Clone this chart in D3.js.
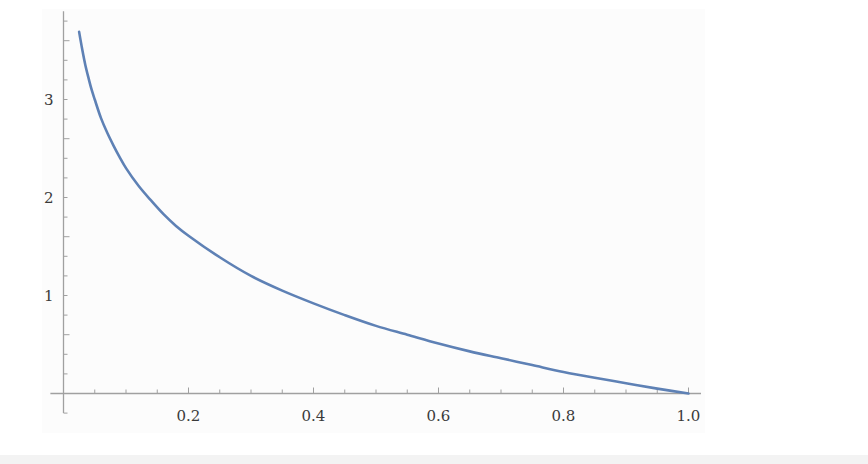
<!DOCTYPE html>
<html>
<head>
<meta charset="utf-8">
<script src="https://cdn.jsdelivr.net/npm/d3@7"></script>
<style>
  body { margin: 0; background: #fff; }
  #chart { width: 868px; height: 464px; }
</style>
</head>
<body>
<div id="chart"></div>
<script>
(function(){
    var width = 868,
        height = 464;

    // values
    var xValues = [0.025, 0.03, 0.035, 0.04, 0.045, 0.05, 0.06, 0.07, 0.08, 0.09, 0.1, 0.12, 0.14, 0.16, 0.18, 0.2,
                   0.25, 0.3, 0.35, 0.4, 0.45, 0.5, 0.55, 0.6, 0.65, 0.7, 0.75, 0.8, 0.85, 0.9, 0.95, 1.0];
    var yValues = [3.69, 3.51, 3.35, 3.22, 3.10, 3.0, 2.81, 2.66, 2.53, 2.41, 2.30, 2.12, 1.97, 1.83, 1.71, 1.61,
                   1.39, 1.20, 1.05, 0.92, 0.80, 0.69, 0.60, 0.51, 0.43, 0.36, 0.29, 0.22, 0.16, 0.105, 0.05, 0.0];
    var xTickLabels = ["0.2", "0.4", "0.6", "0.8", "1.0"];
    var yTickLabels = ["1", "2", "3"];

    var points = xValues.map(function(x, i){ return {x: x, y: yValues[i]} })

    var svg = d3.select("#chart")
      .append("svg")
      .attr("width", width)
      .attr("height", height)

    // panel + bottom band
    svg.append("rect").attr("x", 0).attr("y", 0).attr("width", width).attr("height", height).attr("fill", "#fff")
    svg.append("rect").attr("x", 42).attr("y", 9).attr("width", 663).attr("height", 424).attr("fill", "#fcfcfc")
    svg.append("rect").attr("x", 0).attr("y", 455).attr("width", width).attr("height", 9).attr("fill", "#f3f3f3")

    var x = d3.scaleLinear().domain([0, 1]).range([63.5, 688.5])
    var y = d3.scaleLinear().domain([0, 1]).range([393.5, 295.5])

    var axisColor = "#a0a0a0"
    var labelFont = "DejaVu Serif, Liberation Serif, serif"

    // x axis line
    svg.append("line")
      .attr("x1", x(-0.021)).attr("x2", x(1.02))
      .attr("y1", y(0)).attr("y2", y(0))
      .attr("stroke", axisColor).attr("stroke-width", 1.3)

    // y axis line
    svg.append("line")
      .attr("x1", x(0)).attr("x2", x(0))
      .attr("y1", y(-0.2)).attr("y2", y(3.9))
      .attr("stroke", axisColor).attr("stroke-width", 1.3)

    // x ticks
    var xMinor = d3.range(1, 21).map(function(i){ return i * 0.05 })
    svg.selectAll(".xtick")
      .data(xMinor)
      .enter().append("line")
      .attr("class", "xtick")
      .attr("x1", function(d){ return x(d) })
      .attr("x2", function(d){ return x(d) })
      .attr("y1", y(0))
      .attr("y2", function(d, i){ return (i % 4 === 3) ? y(0) - 6 : y(0) - 4 })
      .attr("stroke", axisColor).attr("stroke-width", 1)

    svg.selectAll(".xlabel")
      .data(xTickLabels)
      .enter().append("text")
      .attr("class", "xlabel")
      .attr("x", function(d){ return x(+d) })
      .attr("y", y(0) + 27)
      .attr("text-anchor", "middle")
      .attr("font-family", labelFont)
      .attr("font-size", 15)
      .attr("fill", "#3a3a3a")
      .text(function(d){ return d })

    // y ticks
    var yMinor = d3.range(-1, 20).map(function(i){ return i * 0.2 })
    svg.selectAll(".ytick")
      .data(yMinor)
      .enter().append("line")
      .attr("class", "ytick")
      .attr("y1", function(d){ return y(d) })
      .attr("y2", function(d){ return y(d) })
      .attr("x1", x(0))
      .attr("x2", function(d, i){ return ((i + 1) % 5 === 0) ? x(0) + 6 : x(0) + 4 })
      .attr("stroke", axisColor).attr("stroke-width", 1)
      .style("display", function(d){ return Math.abs(d) < 1e-9 ? "none" : null })

    svg.selectAll(".ylabel")
      .data(yTickLabels)
      .enter().append("text")
      .attr("class", "ylabel")
      .attr("x", x(0) - 10)
      .attr("y", function(d){ return y(+d) + 5 })
      .attr("text-anchor", "end")
      .attr("font-family", labelFont)
      .attr("font-size", 15)
      .attr("fill", "#3a3a3a")
      .text(function(d){ return d })

    // curve
    var line = d3.line()
      .x(function(d){ return x(d.x) })
      .y(function(d){ return y(d.y) })
      .curve(d3.curveCatmullRom)

    svg.append("path")
      .datum(points)
      .attr("d", line)
      .attr("fill", "none")
      .attr("stroke", "#5e81b5")
      .attr("stroke-width", 2.6)
      .attr("stroke-linecap", "round")
})();
</script>
</body>
</html>
